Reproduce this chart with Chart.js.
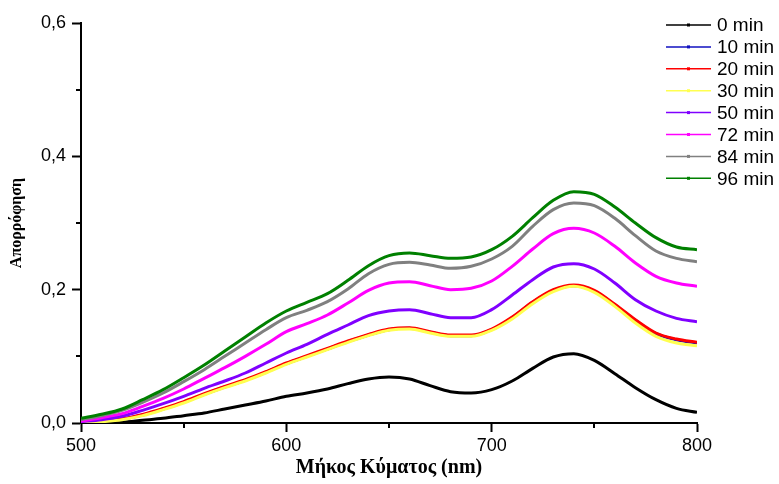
<!DOCTYPE html>
<html>
<head>
<meta charset="utf-8">
<script src="https://cdn.jsdelivr.net/npm/chart.js@4"></script>
<style>
  html, body { margin: 0; padding: 0; background: #ffffff; }
  #wrap { width: 779px; height: 484px; }
</style>
</head>
<body>
<div id="wrap"><canvas id="c" width="779" height="484"></canvas></div>
<script>
// ---- data ----
const wavelengths = [500,510,520,530,540,550,560,570,580,590,600,610,620,630,640,650,660,670,680,690,700,710,720,730,740,750,760,770,780,790,800];
const seriesLabels = ['0 min','10 min','20 min','30 min','50 min','72 min','84 min','96 min'];
const seriesColors = ['#000000','#1010c0','#ff0000','#ffff50','#8000ff','#ff00ff','#808080','#008000'];
const abs0  = [0.000,0.000,0.001,0.004,0.007,0.011,0.015,0.021,0.027,0.033,0.040,0.045,0.051,0.059,0.066,0.069,0.066,0.056,0.047,0.045,0.050,0.063,0.082,0.099,0.104,0.094,0.074,0.053,0.035,0.022,0.016];
const abs10 = [0.001,0.003,0.006,0.012,0.021,0.031,0.043,0.054,0.064,0.076,0.089,0.100,0.111,0.122,0.132,0.140,0.142,0.136,0.131,0.131,0.140,0.158,0.181,0.199,0.206,0.198,0.177,0.154,0.134,0.125,0.120];
const abs20 = [0.001,0.003,0.006,0.013,0.022,0.032,0.044,0.055,0.065,0.077,0.090,0.101,0.112,0.123,0.133,0.141,0.143,0.137,0.132,0.132,0.141,0.159,0.182,0.200,0.207,0.199,0.178,0.155,0.135,0.126,0.121];
const abs30 = [0.000,0.002,0.005,0.011,0.020,0.030,0.042,0.053,0.063,0.075,0.088,0.099,0.110,0.121,0.131,0.139,0.141,0.135,0.130,0.130,0.139,0.156,0.179,0.197,0.205,0.196,0.175,0.150,0.130,0.120,0.116];
const abs50 = [0.002,0.005,0.010,0.019,0.029,0.040,0.052,0.063,0.075,0.090,0.105,0.118,0.133,0.147,0.161,0.168,0.170,0.164,0.158,0.158,0.170,0.192,0.215,0.234,0.239,0.231,0.210,0.185,0.168,0.157,0.152];
const abs72 = [0.003,0.008,0.014,0.025,0.037,0.051,0.067,0.083,0.100,0.118,0.137,0.149,0.162,0.180,0.199,0.210,0.212,0.206,0.200,0.202,0.213,0.235,0.261,0.284,0.292,0.285,0.265,0.240,0.220,0.210,0.205];
const abs84 = [0.005,0.011,0.019,0.031,0.045,0.062,0.080,0.100,0.120,0.140,0.158,0.169,0.182,0.201,0.224,0.238,0.241,0.237,0.232,0.235,0.246,0.265,0.295,0.320,0.330,0.326,0.307,0.281,0.258,0.247,0.242];
const abs96 = [0.007,0.013,0.021,0.035,0.050,0.068,0.087,0.108,0.129,0.150,0.168,0.181,0.194,0.214,0.236,0.251,0.255,0.251,0.247,0.249,0.260,0.280,0.308,0.334,0.347,0.343,0.324,0.300,0.278,0.264,0.260];
const seriesValues = [abs0, abs10, abs20, abs30, abs50, abs72, abs84, abs96];

const xTickValues = [500, 550, 600, 650, 700, 750, 800];
const xTickLabels = ['500', '', '600', '', '700', '', '800'];
const yTickValues = [0, 0.1, 0.2, 0.3, 0.4, 0.5, 0.6];
const yTickLabels = ['0,0', '', '0,2', '', '0,4', '', '0,6'];
const xTitle = 'Μήκος Κύματος (nm)';
const yTitle = 'Απορρόφηση';

// ---- chart ----
const datasets = seriesLabels.map((lab, i) => ({
  label: lab,
  data: wavelengths.map((w, k) => ({ x: w, y: seriesValues[i][k] })),
  borderColor: seriesColors[i],
  backgroundColor: seriesColors[i],
  borderWidth: 3,
  pointRadius: 0,
  fill: false,
  cubicInterpolationMode: 'monotone',
  order: -i
}));

const tickFont = { family: "'Liberation Sans', Arial, sans-serif", size: 18 };

// minor ticks (shorter) + legend
const decorPlugin = {
  id: 'decor',
  afterDraw(chart) {
    const ctx = chart.ctx;
    const xs = chart.scales.x, ys = chart.scales.y;
    ctx.save();
    ctx.strokeStyle = '#000';
    ctx.lineWidth = 2;
    xTickValues.forEach((v, i) => {
      if (xTickLabels[i] !== '') return;
      const px = Math.round(xs.getPixelForValue(v));
      ctx.beginPath(); ctx.moveTo(px, ys.bottom); ctx.lineTo(px, ys.bottom + 5); ctx.stroke();
    });
    yTickValues.forEach((v, i) => {
      if (yTickLabels[i] !== '') return;
      const py = Math.round(ys.getPixelForValue(v));
      ctx.beginPath(); ctx.moveTo(xs.left, py); ctx.lineTo(xs.left - 5, py); ctx.stroke();
    });
    // legend
    const ca = chart.chartArea;
    const x0 = ca.right - 31, x1 = ca.right + 14, tx = ca.right + 20;
    ctx.font = "19px 'Liberation Sans', Arial, sans-serif";
    ctx.textBaseline = 'middle';
    ctx.textAlign = 'left';
    chart.data.datasets.forEach((ds, i) => {
      const y = ca.top + 2 + i * 21.9;
      ctx.strokeStyle = ds.borderColor;
      ctx.lineWidth = 1.5;
      ctx.beginPath(); ctx.moveTo(x0, y); ctx.lineTo(x1, y); ctx.stroke();
      ctx.fillStyle = ds.borderColor;
      const mx = (x0 + x1) / 2;
      ctx.fillRect(mx - 1.5, y - 1.5, 3, 3);
      ctx.fillStyle = '#000';
      ctx.fillText(ds.label, tx, y + 1);
    });
    ctx.restore();
  }
};

new Chart(document.getElementById('c'), {
  type: 'line',
  data: { datasets },
  options: {
    responsive: false,
    animation: false,
    layout: { padding: { left: 0, right: 82, top: 23, bottom: 0 } },
    plugins: { legend: { display: false }, tooltip: { enabled: false } },
    scales: {
      x: {
        type: 'linear',
        min: 500, max: 800,
        afterBuildTicks: (s) => { s.ticks = xTickValues.map(v => ({ value: v })); },
        afterFit: (s) => { s.height = 61; },
        ticks: {
          font: tickFont, color: '#000', padding: 3, maxRotation: 0, autoSkip: false,
          callback: (v) => { const i = xTickValues.indexOf(v); return i >= 0 ? xTickLabels[i] : ''; }
        },
        grid: {
          drawOnChartArea: false, drawTicks: true, tickLength: 9, tickWidth: 2,
          tickColor: (c) => (xTickLabels[xTickValues.indexOf(c.tick.value)] ? '#000' : 'rgba(0,0,0,0)')
        },
        border: { display: true, color: '#000', width: 2 },
        title: {
          display: true, text: xTitle, color: '#000',
          font: { family: "'Liberation Serif', 'Times New Roman', serif", size: 20, weight: 'bold' },
          padding: { top: 0, bottom: 4 }
        }
      },
      y: {
        type: 'linear',
        min: 0, max: 0.6,
        afterBuildTicks: (s) => { s.ticks = yTickValues.map(v => ({ value: v })); },
        afterFit: (s) => { s.width = 81; },
        ticks: {
          font: tickFont, color: '#000', padding: 6, autoSkip: false,
          callback: (v) => { const i = yTickValues.findIndex(t => Math.abs(t - v) < 1e-9); return i >= 0 ? yTickLabels[i] : ''; }
        },
        grid: {
          drawOnChartArea: false, drawTicks: true, tickLength: 9, tickWidth: 2,
          tickColor: (c) => { const i = yTickValues.findIndex(t => Math.abs(t - c.tick.value) < 1e-9); return yTickLabels[i] ? '#000' : 'rgba(0,0,0,0)'; }
        },
        border: { display: true, color: '#000', width: 2 },
        title: {
          display: true, text: yTitle, color: '#000',
          font: { family: "'Liberation Serif', 'Times New Roman', serif", size: 16, weight: 'bold' },
          padding: { top: 7, bottom: 0 }
        }
      }
    }
  },
  plugins: [decorPlugin]
});
</script>
</body>
</html>
